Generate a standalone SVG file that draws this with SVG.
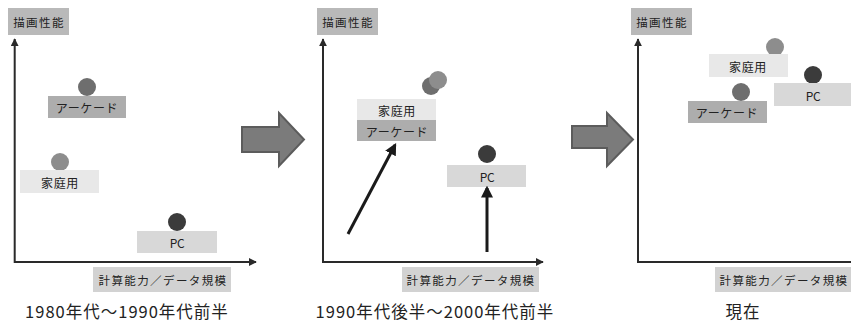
<svg xmlns="http://www.w3.org/2000/svg" width="851" height="324" viewBox="0 0 851 324">
<defs>
<style>
text{font-family:"Noto Sans CJK JP","Noto Sans",sans-serif;fill:#222;text-anchor:middle;dominant-baseline:central}
.ax{stroke:#2a2a2a;stroke-width:2;fill:none}
.lbl{font-size:11.5px;letter-spacing:1.4px}
.nl{font-size:12px;letter-spacing:0.6px}
.cap{font-size:16.5px;letter-spacing:1px;dominant-baseline:auto}
.yb{fill:#b9b9b9}
.xb{fill:#d2d2d2}
.ab{fill:#adadad}
.hb{fill:#e8e8e8}
.pb{fill:#d8d8d8}
.ac{fill:#6e6e6e}
.hc{fill:#8d8d8d}
.pc{fill:#3b3b3b}
.big{fill:#7b7b7b;stroke:#5c5c5c;stroke-width:2;stroke-linejoin:miter}
.ar{stroke:#1a1a1a;stroke-width:3;fill:none}
</style>
<marker id="ah" viewBox="0 0 10 10" refX="9" refY="5" markerWidth="4" markerHeight="4" markerUnits="strokeWidth" orient="auto-start-reverse"><path d="M0,0 L10,5 L0,10 z" fill="#2a2a2a"/></marker>
<marker id="ah2" viewBox="0 0 10 10" refX="8" refY="5" markerWidth="4" markerHeight="4.3" markerUnits="strokeWidth" orient="auto"><path d="M0,0 L10,5 L0,10 z" fill="#1a1a1a"/></marker>
</defs>

<!-- Panel 1 -->
<g id="p1-ylabel"><rect class="yb" x="8" y="8" width="61" height="27"/><text class="lbl" x="39" y="22">描画性能</text></g>
<g id="p1-xlabel"><rect class="xb" x="93" y="267" width="138" height="25"/><text class="lbl" x="163" y="280">計算能力／データ規模</text></g>
<g id="p1-arcade"><circle class="ac" cx="87" cy="87" r="9"/><rect class="ab" x="48" y="96" width="78" height="22"/><text class="nl" x="87" y="107">アーケード</text></g>
<g id="p1-home"><circle class="hc" cx="60" cy="162" r="9"/><rect class="hb" x="20" y="170" width="79" height="23"/><text class="nl" x="60" y="182">家庭用</text></g>
<g id="p1-pc"><circle class="pc" cx="177" cy="222" r="9"/><rect class="pb" x="137" y="231" width="80" height="22"/><text class="nl" x="177" y="242" style="letter-spacing:-0.5px">PC</text></g>
<text id="cap1" class="cap" x="127" y="318">1980年代～1990年代前半</text>

<!-- Panel 2 -->
<g id="p2-ylabel"><rect class="yb" x="317" y="8" width="61" height="27"/><text class="lbl" x="348" y="22">描画性能</text></g>
<g id="p2-xlabel"><rect class="xb" x="402" y="267" width="137" height="25"/><text class="lbl" x="471" y="280">計算能力／データ規模</text></g>
<g id="p2-circles"><circle class="ac" cx="431" cy="86" r="9"/><circle class="hc" cx="438" cy="80" r="9"/></g>
<g id="p2-home"><rect class="hb" x="357" y="99" width="79" height="21"/><text class="nl" x="397" y="110">家庭用</text></g>
<g id="p2-arcade"><rect class="ab" x="357" y="120" width="79" height="21"/><text class="nl" x="397" y="131">アーケード</text></g>
<g id="p2-pc"><circle class="pc" cx="487" cy="154" r="9"/><rect class="pb" x="447" y="165" width="79" height="22"/><text class="nl" x="487" y="176" style="letter-spacing:-0.5px">PC</text></g>
<text id="cap2" class="cap" x="435" y="318">1990年代後半～2000年代前半</text>

<!-- Panel 3 -->
<g id="p3-ylabel"><rect class="yb" x="631" y="8" width="61" height="27"/><text class="lbl" x="662" y="22">描画性能</text></g>
<g id="p3-xlabel"><rect class="xb" x="715" y="267" width="136" height="25"/><text class="lbl" x="784" y="280">計算能力／データ規模</text></g>
<g id="p3-home"><circle class="hc" cx="775" cy="47" r="9"/><rect class="hb" x="709" y="54" width="79" height="23"/><text class="nl" x="748" y="66">家庭用</text></g>
<g id="p3-pc"><circle class="pc" cx="813" cy="75" r="9"/><rect class="pb" x="774" y="83" width="77" height="23"/><text class="nl" x="813" y="95" style="letter-spacing:-0.5px">PC</text></g>
<g id="p3-arcade"><circle class="ac" cx="741" cy="92" r="9"/><rect class="ab" x="688" y="101" width="79" height="22"/><text class="nl" x="727" y="112">アーケード</text></g>
<text id="cap3" class="cap" x="743" y="318">現在</text>

<!-- Big transition arrows -->
<g id="big1"><path class="big" d="M242,127 L279,127 L279,113 L304,139.5 L279,166 L279,152 L242,152 Z"/></g>
<g id="big2"><path class="big" d="M572,126 L607,126 L607,113 L633,139.5 L607,166 L607,148 L572,148 Z"/></g>

<!-- Connectors -->
<g id="connectors">
<polyline class="ax" points="14.7,39 14.7,262 256,262" marker-start="url(#ah)" marker-end="url(#ah)"/>
<polyline class="ax" points="323,39 323,262 543,262" marker-start="url(#ah)" marker-end="url(#ah)"/>
<polyline class="ax" points="638,39 638,262 851,262" marker-start="url(#ah)"/>
<line class="ar" x1="348" y1="234" x2="395" y2="145" marker-end="url(#ah2)"/>
<line class="ar" x1="487" y1="252" x2="487" y2="188" marker-end="url(#ah2)"/>
</g>
</svg>
